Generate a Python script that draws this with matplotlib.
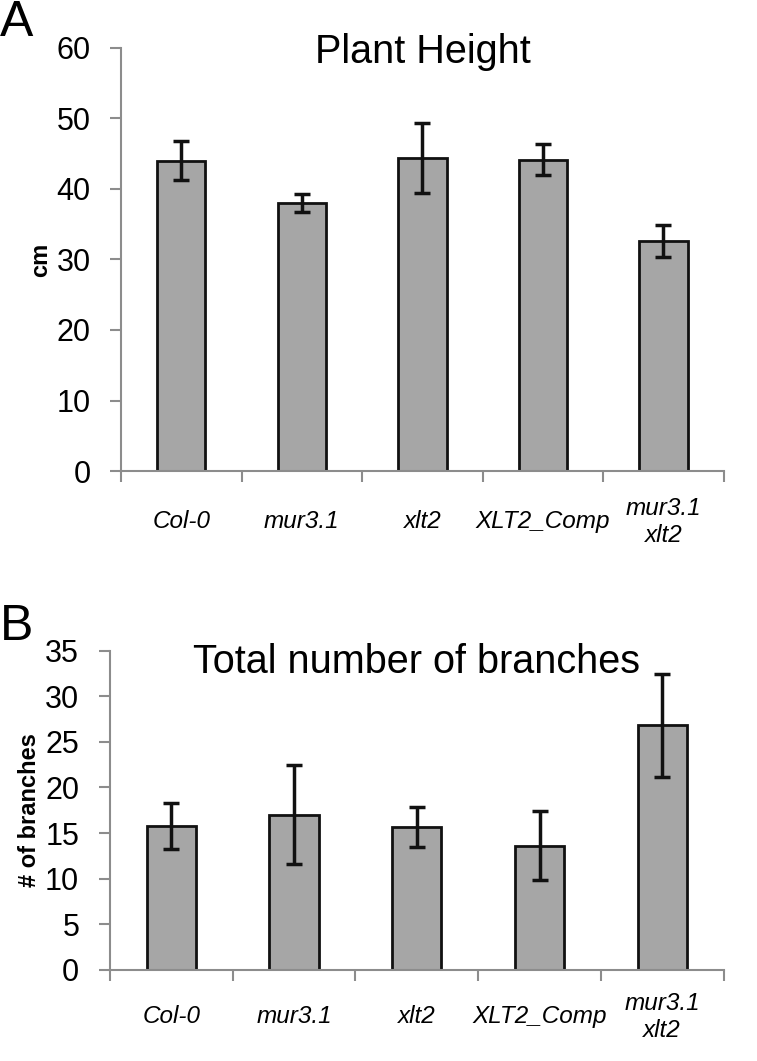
import numpy as np
import matplotlib
matplotlib.use("Agg")
import matplotlib.pyplot as plt
from matplotlib.ticker import FixedLocator
from matplotlib.transforms import blended_transform_factory

plt.rcParams['font.family'] = ['Liberation Sans', 'DejaVu Sans']

# donnees
lignees = ["Col-0", "mur3.1", "xlt2", "XLT2_Comp", "mur3.1\nxlt2"]
hauteur = [44.0, 38.0, 44.4, 44.1, 32.6]
hauteur_err = [2.8, 1.3, 5.0, 2.2, 2.25]
branches = [15.8, 17.0, 15.7, 13.6, 26.8]
branches_err = [2.5, 5.45, 2.2, 3.8, 5.7]

gris = "#a6a6a6"
axe_gris = "#8c8c8c"


def panneau(ax, vals, errs, ymax, ystep, titre, titre_y, ylabel, ylab_x, lab_off):
    x = np.arange(len(lignees))
    ax.bar(x, vals, width=0.4, color=gris, edgecolor="#111111", linewidth=2, zorder=2)
    ax.errorbar(x, vals, yerr=errs, fmt="none", ecolor="#111111", elinewidth=2.5,
                capsize=5.5, capthick=2.5, zorder=3)
    ax.set_xlim(-0.5, len(lignees) - 0.5)
    ax.set_ylim(0, ymax)
    ax.set_yticks(np.arange(0, ymax + 0.1, ystep))
    ax.tick_params(axis="y", labelsize=22, length=8, width=1.5, color=axe_gris, pad=14)
    # ticks de l'axe x aux frontieres des categories
    ax.xaxis.set_major_locator(FixedLocator(np.arange(-0.5, len(lignees), 1.0)))
    ax.set_xticklabels([])
    ax.tick_params(axis="x", length=8, width=1.5, color=axe_gris)
    for s in ["top", "right"]:
        ax.spines[s].set_visible(False)
    for s in ["left", "bottom"]:
        ax.spines[s].set_color(axe_gris)
        ax.spines[s].set_linewidth(1.5)
    trans = blended_transform_factory(ax.transData, ax.transAxes)
    for i, lab in enumerate(lignees):
        ax.annotate(lab, xy=(i, 0), xycoords=trans, xytext=(0, lab_off),
                    textcoords="offset points", ha="center", va="center",
                    fontsize=17.5, style="italic", linespacing=1.2)
    ax.text(0.5, titre_y, titre, transform=ax.transAxes, ha="center", va="baseline",
            fontsize=28.5)
    ax.set_ylabel(ylabel, fontsize=17, fontweight="bold", va="center")
    ax.yaxis.set_label_coords(ylab_x, 0.5)


fig = plt.figure(figsize=(7.57, 10.61), dpi=100)
ax1 = fig.add_axes([0.160, 0.556, 0.796, 0.399])
ax2 = fig.add_axes([0.145, 0.086, 0.811, 0.3007])

panneau(ax1, hauteur, hauteur_err, 60, 10, "Plant Height", 0.9645, "cm", -0.134, -36.5)
panneau(ax2, branches, branches_err, 35, 5, "Total number of branches", 0.931,
        "# of branches", -0.130, -34)

fig.text(0.0, 0.966, "A", fontsize=36, va="baseline", ha="left")
fig.text(0.0, 0.397, "B", fontsize=36, va="baseline", ha="left")

fig.savefig("out.png", dpi=100)
